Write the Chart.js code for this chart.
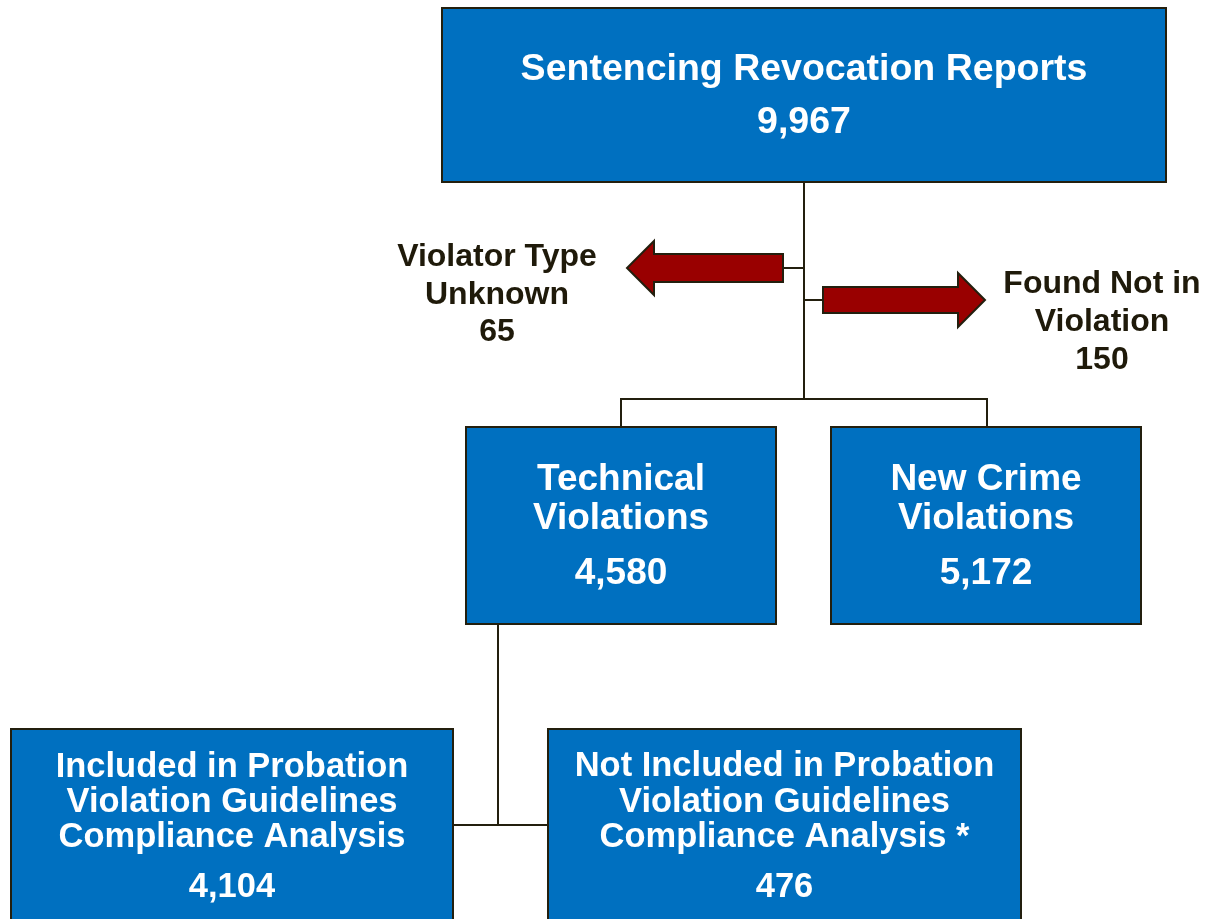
<!DOCTYPE html>
<html>
<head>
<meta charset="utf-8">
<script src="https://cdn.jsdelivr.net/npm/chart.js@4/dist/chart.umd.min.js"></script>
<style>
  html, body { margin: 0; padding: 0; background: #fff; }
  canvas { display: block; }
</style>
</head>
<body>
<canvas id="flow" width="1205" height="919"></canvas>
<script>
// data
const nodeTitles = [
  ["Sentencing Revocation Reports"],
  ["Technical", "Violations"],
  ["New Crime", "Violations"],
  ["Included in Probation", "Violation Guidelines", "Compliance Analysis"],
  ["Not Included in Probation", "Violation Guidelines", "Compliance Analysis *"],
];
const nodeCounts = [9967, 4580, 5172, 4104, 476];
const sideTitles = [["Violator Type", "Unknown"], ["Found Not in", "Violation"]];
const sideCounts = [65, 150];

// layout, in axis units (x 0..1205, y 0..919 top-down)
const boxes = [
  { x0: 442, y0: 8, x1: 1166, y1: 182, lines: [70], countY: 123, font: 37.5 },
  { x0: 466, y0: 427, x1: 776, y1: 624, lines: [480, 519], countY: 574, font: 37 },
  { x0: 831, y0: 427, x1: 1141, y1: 624, lines: [480, 519], countY: 574, font: 37 },
  { x0: 11, y0: 729, x1: 453, y1: 940, lines: [767, 802, 837], countY: 887, font: 34.5 },
  { x0: 548, y0: 729, x1: 1021, y1: 940, lines: [766, 802, 837], countY: 887, font: 34.5 },
];
const sides = [
  { cx: 497, lines: [257, 295], countY: 332, font: 32 },
  { cx: 1102, lines: [284, 322], countY: 360, font: 32 },
];
const arrows = [
  { tail: 783, tip: 627, neck: 654, y: 268, half: 14, head: 27, from: 804 },
  { tail: 823, tip: 985, neck: 958, y: 300, half: 13, head: 27, from: 804 },
];
const connectors = [
  [[804, 182], [804, 399]],
  [[621, 427], [621, 399], [987, 399], [987, 427]],
  [[498, 624], [498, 825]],
  [[453, 825], [548, 825]],
];

const BLUE = "#0070C0";
const EDGE = "#231F0E";
const RED = "#990000";
const FONT = "'Liberation Sans', Arial, sans-serif";

const flowPlugin = {
  id: "flow",
  afterDraw(chart) {
    const ctx = chart.ctx;
    const sx = (v) => chart.scales.x.getPixelForValue(v);
    const sy = (v) => chart.scales.y.getPixelForValue(v);
    ctx.save();

    ctx.strokeStyle = EDGE;
    ctx.lineWidth = 2;
    for (const path of connectors) {
      ctx.beginPath();
      path.forEach(([x, y], i) => (i ? ctx.lineTo(sx(x), sy(y)) : ctx.moveTo(sx(x), sy(y))));
      ctx.stroke();
    }

    for (const a of arrows) {
      ctx.beginPath();
      ctx.moveTo(sx(a.from), sy(a.y));
      ctx.lineTo(sx(a.tail), sy(a.y));
      ctx.stroke();
      ctx.beginPath();
      ctx.moveTo(sx(a.tail), sy(a.y - a.half));
      ctx.lineTo(sx(a.neck), sy(a.y - a.half));
      ctx.lineTo(sx(a.neck), sy(a.y - a.head));
      ctx.lineTo(sx(a.tip), sy(a.y));
      ctx.lineTo(sx(a.neck), sy(a.y + a.head));
      ctx.lineTo(sx(a.neck), sy(a.y + a.half));
      ctx.lineTo(sx(a.tail), sy(a.y + a.half));
      ctx.closePath();
      ctx.fillStyle = RED;
      ctx.fill();
      ctx.lineWidth = 2;
      ctx.stroke();
    }

    ctx.textAlign = "center";
    ctx.textBaseline = "middle";
    boxes.forEach((b, i) => {
      const x = sx(b.x0), y = sy(b.y0), w = sx(b.x1) - x, h = sy(b.y1) - y;
      ctx.fillStyle = BLUE;
      ctx.fillRect(x, y, w, h);
      ctx.strokeStyle = EDGE;
      ctx.lineWidth = 2;
      ctx.strokeRect(x, y, w, h);
      const cx = sx((b.x0 + b.x1) / 2);
      ctx.fillStyle = "#fff";
      ctx.font = `bold ${b.font}px ${FONT}`;
      nodeTitles[i].forEach((t, j) => ctx.fillText(t, cx, sy(b.lines[j])));
      ctx.fillText(nodeCounts[i].toLocaleString("en-US"), cx, sy(b.countY));
    });

    sides.forEach((s, i) => {
      ctx.fillStyle = "#1F1A0A";
      ctx.font = `bold ${s.font}px ${FONT}`;
      sideTitles[i].forEach((t, j) => ctx.fillText(t, sx(s.cx), sy(s.lines[j])));
      ctx.fillText(sideCounts[i].toLocaleString("en-US"), sx(s.cx), sy(s.countY));
    });

    ctx.restore();
  },
};

new Chart(document.getElementById("flow").getContext("2d"), {
  type: "scatter",
  data: { datasets: [{ data: [], pointRadius: 0 }] },
  plugins: [flowPlugin],
  options: {
    responsive: false,
    animation: false,
    layout: { padding: 0 },
    plugins: { legend: { display: false }, tooltip: { enabled: false } },
    scales: {
      x: { type: "linear", min: 0, max: 1205, display: false },
      y: { type: "linear", min: 0, max: 919, reverse: true, display: false },
    },
  },
});
</script>
</body>
</html>
